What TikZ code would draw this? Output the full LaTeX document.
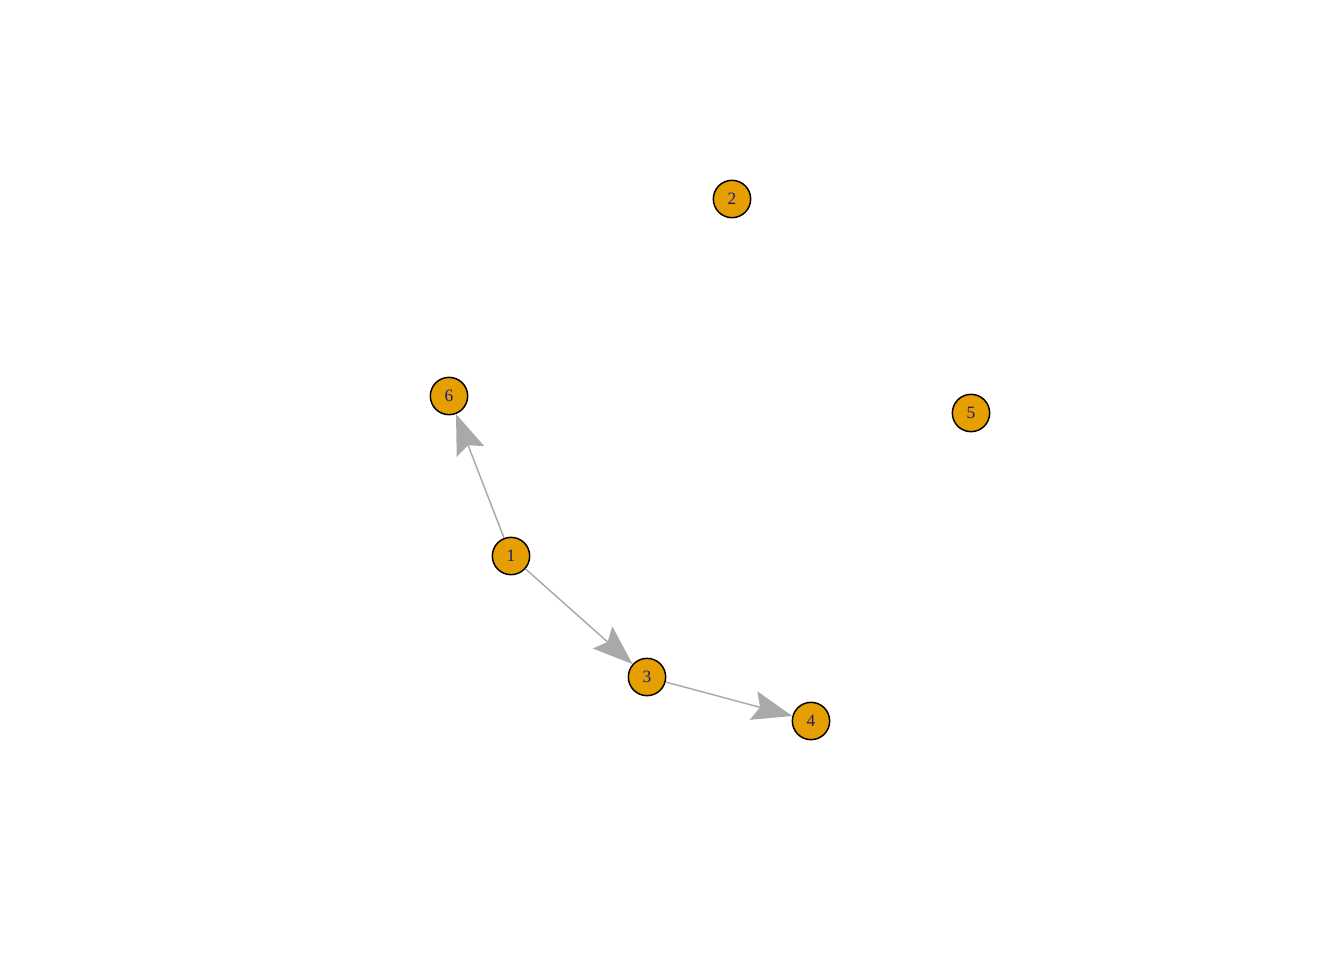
\documentclass[tikz,border=0pt]{standalone}
\usetikzlibrary{arrows.meta}
\usepackage{fontspec}
\setmainfont{Liberation Serif}
\definecolor{vfill}{HTML}{E69F00}
\definecolor{vlabel}{HTML}{1A1A80}
\definecolor{edgecol}{HTML}{A9A9A9}
\begin{document}
\begin{tikzpicture}[x=0.75pt,y=-0.75pt,
  vert/.style={circle,draw=black,line width=1.1pt,fill=vfill,minimum size=28pt,inner sep=0pt,
    font=\fontsize{13}{15}\selectfont,text=vlabel},
  edge/.style={draw=edgecol,line width=1.1pt,-{Stealth[length=30pt,width=22pt,inset=5pt]}}]
\useasboundingbox (0,0) rectangle (1344,960);
\node[vert] (n1) at (511,556) {1};
\node[vert] (n2) at (732,199) {2};
\node[vert] (n3) at (647,677) {3};
\node[vert] (n4) at (811,721) {4};
\node[vert] (n5) at (971,413) {5};
\node[vert] (n6) at (449,396) {6};
\draw[edge] (n1) -- (n6);
\draw[edge] (n1) -- (n3);
\draw[edge] (n3) -- (n4);
\end{tikzpicture}
\end{document}
